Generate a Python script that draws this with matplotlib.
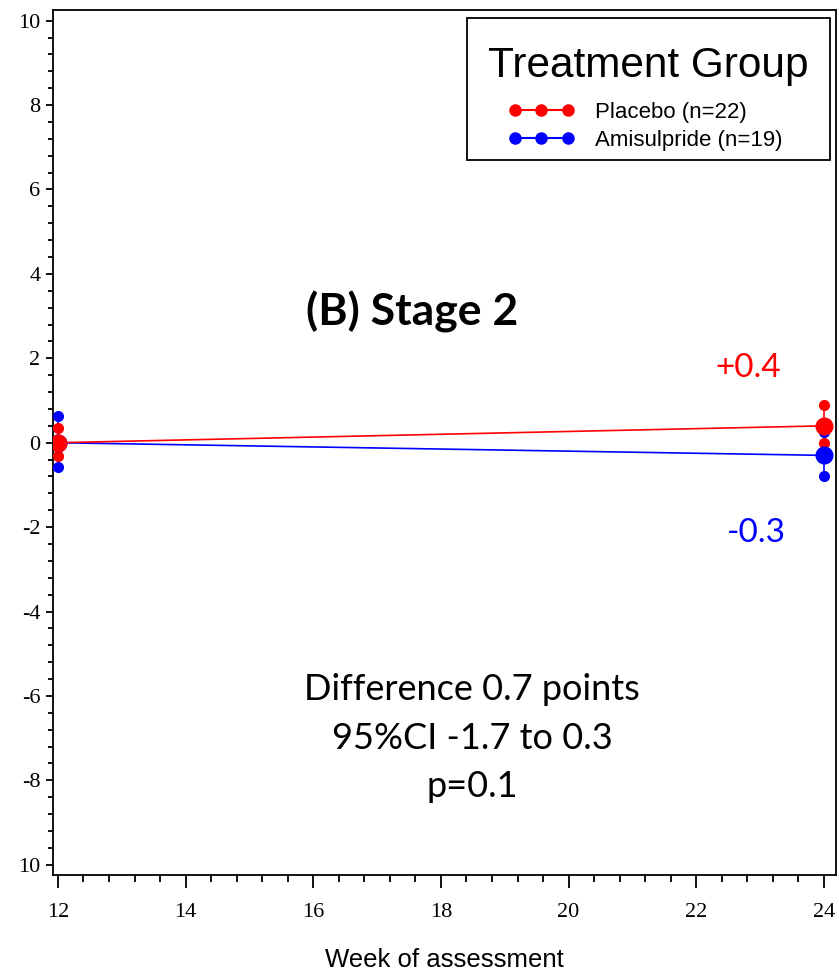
import matplotlib
matplotlib.use("Agg")
import matplotlib.pyplot as plt
from matplotlib.patches import Rectangle
from matplotlib.ticker import MultipleLocator

# data
weeks = [12, 24]
placebo_mean = [0.0, 0.4]
placebo_low = [-0.31, 0.0]
placebo_high = [0.36, 0.9]
amisul_mean = [0.0, -0.3]
amisul_low = [-0.57, -0.8]
amisul_high = [0.64, 0.26]

groups = [
    ("Placebo (n=22)", "#ff0000", placebo_mean, placebo_low, placebo_high),
    ("Amisulpride (n=19)", "#0000ff", amisul_mean, amisul_low, amisul_high),
]
y_ticks = [10, 8, 6, 4, 2, 0, -2, -4, -6, -8, -10]
y_labels = ["10", "8", "6", "4", "2", "0", "-2", "-4", "-6", "-8", "10"]
x_ticks = [12, 14, 16, 18, 20, 22, 24]

fig = plt.figure(figsize=(8.39, 9.71), dpi=100)
ax = fig.add_axes([0.063, 0.099, 0.9335, 0.891])

# blue first so red is drawn on top
for name, col, mean, low, high in groups[::-1]:
    for i, w in enumerate(weeks):
        ax.plot([w, w], [low[i], high[i]], color=col, lw=1.2, zorder=3)
        ax.plot([w, w], [low[i], high[i]], 'o', color=col, ms=7, zorder=4)
        ax.plot(w, mean[i], 'o', color=col, ms=12, zorder=5)
    ax.plot(weeks, mean, color=col, lw=1.2, zorder=3)

# legend: box + title drawn by hand, entries as a frameless legend
ax.add_patch(Rectangle((0.5287, 0.8266), 0.4636, 0.1642, transform=ax.transAxes,
                       facecolor='white', edgecolor='black', lw=1.3, zorder=6))
ax.text(0.7599, 0.9352, "Treatment Group", transform=ax.transAxes,
        family='Liberation Sans', fontsize=30.5, ha='center', va='center', zorder=7)
handles = []
for name, col, *_ in groups:
    h, = ax.plot([], [], '-o', color=col, ms=8, lw=1.5, label=name)
    handles.append(h)
leg = ax.legend(handles=handles, loc='center', numpoints=3, frameon=False,
                handlelength=3.0, handletextpad=0.9, borderpad=0,
                labelspacing=0.3, bbox_to_anchor=(0.7561, 0.8652),
                prop={'family': 'Liberation Sans', 'size': 16})
leg.set_zorder(8)

ax.set_xlim(11.92, 24.19)
ax.set_ylim(-10.24, 10.26)
ax.set_xticks(x_ticks)
ax.set_xticklabels([str(x) for x in x_ticks], family='Liberation Serif', fontsize=16)
ax.set_yticks(y_ticks)
ax.set_yticklabels(y_labels, family='Liberation Serif', fontsize=16)
ax.xaxis.set_minor_locator(MultipleLocator(0.4))
ax.yaxis.set_minor_locator(MultipleLocator(0.4))
ax.tick_params(axis='x', which='major', length=9, width=1.3, pad=11)
ax.tick_params(axis='x', which='minor', length=5, width=1.3)
ax.tick_params(axis='y', which='major', length=5, width=1.3, pad=4)
ax.tick_params(axis='y', which='minor', length=3.5, width=1.3)
for s in ax.spines.values():
    s.set_linewidth(1.3)

ax.set_xlabel("Week of assessment", family='Liberation Sans', fontsize=18.5, labelpad=19)

ax.text(17.55, 3.1, "(B) Stage 2", family='Lato', weight='bold', fontsize=32,
        ha='center', va='center')
ax.text(22.82, 1.78, "+0.4", color='#ff0000', family='Lato', fontsize=24,
        ha='center', va='center')
ax.text(22.94, -2.13, "-0.3", color='#0000ff', family='Lato', fontsize=24,
        ha='center', va='center')
ax.text(18.49, -7.0, "Difference 0.7 points\n95%CI -1.7 to 0.3\np=0.1",
        family='Lato', fontsize=26, ha='center', va='center', linespacing=1.58)

fig.savefig("out.png", dpi=100)
